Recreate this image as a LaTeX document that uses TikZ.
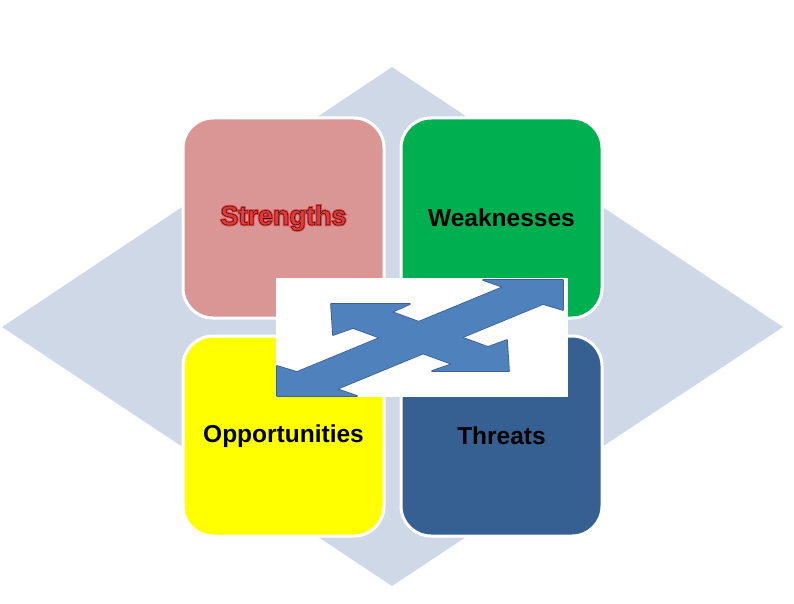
\documentclass[tikz,border=0pt]{standalone}
\usepackage{fontspec}
\setmainfont{Liberation Sans}
\usepackage{xcolor}
\definecolor{diamondgray}{HTML}{CFD8E7}
\definecolor{strengthred}{HTML}{D99694}
\definecolor{weakgreen}{HTML}{00B050}
\definecolor{opyellow}{HTML}{FFFF00}
\definecolor{threatblue}{HTML}{376092}
\definecolor{arrowblue}{HTML}{4F81BD}
\definecolor{arrowedge}{HTML}{3A5F8F}
\definecolor{textred}{HTML}{E03C3C}
\tikzset{
    swotbox/.style={draw=white,line width=3pt,rounded corners=30pt,
        minimum width=201pt,minimum height=200pt,inner sep=0pt},
    swottext/.style={font=\bfseries\fontsize{24.5}{29}\selectfont},
    crossarrow/.style={fill=arrowblue,draw=arrowedge,line width=1.6pt,line join=round},
}
\newcommand{\quadrant}[5] {
    \node[swotbox,fill=#4] (#1) at (#2,#3) {};
    \node[swottext] (#1text) at (#1.center) {#5};
}
\newcommand{\outlinetext}[3] {
    \special{pdf:code #1 RG 2 Tr #2 w}#3\special{pdf:code 0 Tr}
}

\begin{document}
\begin{tikzpicture}[x=1pt,y=-1pt]
        \useasboundingbox (0,0) rectangle (794,604);
        % background diamond
        \fill[diamondgray] (2,327) -- (392,67) -- (783,327) -- (392,586) -- cycle;
        % the four boxes
        \quadrant{str}{283.5}{218}{strengthred}{};
        \quadrant{weak}{501.5}{218}{weakgreen}{Weaknesses};
        \quadrant{opp}{283.5}{436}{opyellow}{Opportunities};
        \quadrant{thr}{501.5}{436}{threatblue}{Threats};
        \node[swottext,font=\bfseries\fontsize{27}{31}\selectfont,text=textred]
            (strglow) at (str.center)
            {\outlinetext{0.88 0.24 0.24}{2.4}{Strengths}};
        \node[swottext,font=\bfseries\fontsize{27}{31}\selectfont,text=textred]
            (strtext) at (str.center)
            {\outlinetext{0.25 0.05 0.05}{0.5}{Strengths}};
        % white panel with the crossed arrows
        \fill[white] (276,278) rectangle (568,397);
        \foreach \pass in {1,2} {
            \ifnum\pass=1 \tikzset{arrowpass/.style={crossarrow}}
            \else \tikzset{arrowpass/.style={fill=arrowblue}} \fi
            \path[arrowpass] (277,396) -- (277,366) -- (297,372) -- (503,287)
                -- (483,280) -- (563,280) -- (563,310) -- (543,304)
                -- (337,389) -- (357,396) -- cycle;
            \path[arrowpass] (331,304) -- (410,304) -- (392,312) -- (488,347)
                -- (507,340) -- (509,371) -- (432,371) -- (452,364)
                -- (353,328) -- (333,335) -- cycle;
        }
    \end{tikzpicture}
\end{document}
